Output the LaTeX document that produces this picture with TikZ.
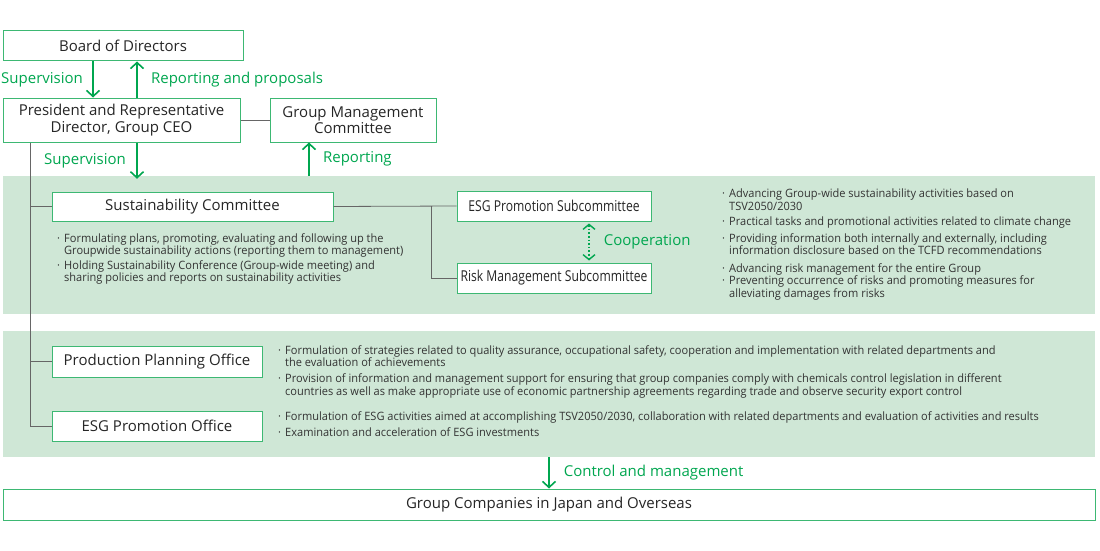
\documentclass[tikz,border=0pt]{standalone}
\usepackage{fontspec}
\setmainfont{Open Sans}
\newfontfamily\narrowfont[FakeStretch=0.96]{Open Sans}
\newfontfamily\condfont[FakeStretch=0.81]{Open Sans}
\usetikzlibrary{arrows.meta,positioning,calc}
\definecolor{BandGreen}{HTML}{CFE7D6}
\definecolor{EdgeGreen}{HTML}{3DB873}
\definecolor{ArrowGreen}{HTML}{00A64F}
\colorlet{LinkGray}{black!60}
\newcommand{\bul}{\makebox[7pt][l]{·}}
\newcommand{\ind}{\hspace*{7pt}}

\begin{document}
\begin{tikzpicture}[x=1pt,y=-1pt,
    >={Straight Barb[length=6pt,width=13pt,line width=1.6pt]},
    box/.style={draw=EdgeGreen,fill=white,line width=1pt,align=center,inner sep=0pt,
      font=\fontsize{15}{16.5}\selectfont,text=black!85},
    subbox/.style={box,font=\condfont\fontsize{15}{16.5}\selectfont},
    band/.style={fill=BandGreen,draw=none,inner sep=0pt},
    flow/.style={->,ArrowGreen,line width=2.2pt},
    tag/.style={text=ArrowGreen,font=\fontsize{15}{16}\selectfont,inner sep=0pt},
    link/.style={LinkGray,line width=0.8pt},
    notes/.style={align=left,anchor=north west,inner sep=0pt,text=black!80,
      font=\narrowfont\fontsize{11.5}{12.5}\selectfont}
  ]
    \useasboundingbox (0,0) rectangle (1100,551);

    % green bands
    \node[band,minimum width=1092pt,minimum height=138pt] (band1) at (549,245) {};
    \node[band,minimum width=1092pt,minimum height=126pt] (band2) at (549,394) {};

    % boxes
    \node[box,minimum width=240pt,minimum height=30pt] (board) at (123,46) {Board of Directors};
    \node[box,minimum width=237pt,minimum height=44pt] (ceo) at (121.5,120) {President and Representative\\Director, Group CEO};
    \node[box,minimum width=166pt,minimum height=44pt] (gmc) at (353,120) {Group Management\\Committee};
    \node[box,minimum width=281pt,minimum height=29pt] (sc) at (192.5,206.5) {Sustainability Committee};
    \node[subbox,minimum width=194pt,minimum height=30pt] (esgsub) at (554,206) {ESG Promotion Subcommittee};
    \node[subbox,minimum width=194pt,minimum height=30pt] (risksub) at (554,278) {Risk Management Subcommittee};
    \node[box,minimum width=210pt,minimum height=31pt] (ppo) at (157,361.5) {Production Planning Office};
    \node[box,minimum width=210pt,minimum height=30pt] (esgo) at (157,426) {ESG Promotion Office};
    \node[box,minimum width=1092pt,minimum height=31pt] (group) at (549,504.5) {Group Companies in Japan and Overseas};

    % helper columns
    \coordinate (down1) at (93,0);
    \coordinate (up1) at (137,0);
    \coordinate (up2) at (309,0);
    \coordinate (trunk) at (30,0);
    \coordinate (split) at (431,0);
    \coordinate (coop) at (589,0);

    % connectors
    \draw[link] (ceo.east) -- (gmc.west);
    \draw[link] (ceo.south -| trunk) -- (esgo.west -| trunk) -- (esgo.west);
    \draw[link] (sc.west -| trunk) -- (sc.west);
    \draw[link] (ppo.west -| trunk) -- (ppo.west);
    \draw[link] (sc.east) -- (esgsub.west);
    \draw[link] (esgsub.west -| split) |- (risksub.west);

    \draw[flow] (board.south -| down1) -- node[tag,left=9pt] {Supervision} (ceo.north -| down1);
    \draw[flow] (ceo.north -| up1) -- node[tag,right=13pt] {Reporting and proposals} (board.south -| up1);
    \draw[flow] (ceo.south -| up1) -- node[tag,left=10pt] {Supervision} ([yshift=-3pt]band1.north -| up1);
    \draw[flow] (band1.north -| up2) -- node[tag,right=13pt] {Reporting} (gmc.south -| up2);
    \draw[ArrowGreen,line width=1.6pt,dotted,<->,shorten <=2pt,shorten >=2pt,
      >={Straight Barb[length=5pt,width=12pt,line width=1.4pt]}]
      (esgsub.south -| coop) -- node[tag,right=14pt] {Cooperation} (risksub.north -| coop);
    \draw[flow,line width=1.6pt] (band2.south -| group.north) -- node[tag,right=14pt] {Control and management} (group.north);

    % notes
    \node[notes] (scnotes) at (57,233) {\bul Formulating plans, promoting, evaluating and following up the\\
      \ind Groupwide sustainability actions (reporting them to management)\\[2pt]
      \bul Holding Sustainability Conference (Group-wide meeting) and\\
      \ind sharing policies and reports on sustainability activities};
    \node[notes] (esgnotes) at (722,189) {\bul Advancing Group-wide sustainability activities based on\\
      \ind TSV2050/2030\\[2.5pt]
      \bul Practical tasks and promotional activities related to climate change\\[4.5pt]
      \bul Providing information both internally and externally, including\\
      \ind information disclosure based on the TCFD recommendations};
    \node[notes] (risknotes) at (722,263) {\bul Advancing risk management for the entire Group\\
      \bul Preventing occurrence of risks and promoting measures for\\
      \ind alleviating damages from risks};
    \node[notes] (pponotes) at (278,345) {\bul Formulation of strategies related to quality assurance, occupational safety, cooperation and implementation with related departments and\\
      \ind the evaluation of achievements\\[3.5pt]
      \bul Provision of information and management support for ensuring that group companies comply with chemicals control legislation in different\\
      \ind countries as well as make appropriate use of economic partnership agreements regarding trade and observe security export control};
    \node[notes] (esgonotes) at (278,411) {\bul Formulation of ESG activities aimed at accomplishing TSV2050/2030, collaboration with related departments and evaluation of activities and results\\[3.5pt]
      \bul Examination and acceleration of ESG investments};
  \end{tikzpicture}
\end{document}
